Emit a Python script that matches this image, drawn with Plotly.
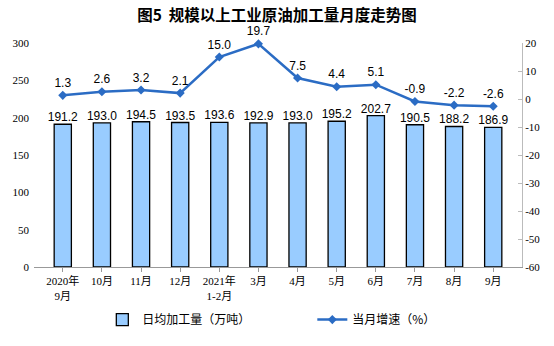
import plotly.graph_objects as go

categories = ["2020年<br>9月", "10月", "11月", "12月", "2021年<br>1-2月", "3月",
              "4月", "5月", "6月", "7月", "8月", "9月"]
daily_output = [191.2, 193.0, 194.5, 193.5, 193.6, 192.9, 193.0, 195.2, 202.7, 190.5, 188.2, 186.9]
growth = [1.3, 2.6, 3.2, 2.1, 15.0, 19.7, 7.5, 4.4, 5.1, -0.9, -2.2, -2.6]
right_ticks = [20, 10, 0, -10, -20, -30, -40, -50, -60]
right_labels = ["20", "10", "0", "-10", "-20", "-30", "-40", "-50", "-60"]

serif = "Liberation Serif, Noto Sans CJK SC, serif"
sans = "Liberation Sans, Arial, sans-serif"
cjk = "Noto Sans CJK SC, sans-serif"

fig = go.Figure()
fig.add_trace(go.Bar(
    x=categories, y=daily_output, name="日均加工量（万吨）",
    marker=dict(color="#99CCFF", line=dict(color="#000000", width=1.3)),
    yaxis="y",
))
fig.add_trace(go.Scatter(
    x=categories, y=daily_output, mode="text", showlegend=False,
    text=[f"{v:.1f}" for v in daily_output], textposition="top center",
    textfont=dict(family=sans, size=12, color="#000000"),
    cliponaxis=False, yaxis="y", hoverinfo="skip",
))
fig.add_trace(go.Scatter(
    x=categories, y=growth, name="当月增速（%）", mode="lines+markers+text",
    line=dict(color="#2B6CC4", width=2.5),
    marker=dict(symbol="diamond", size=7, color="#2B6CC4"),
    text=[f"{v:.1f}" for v in growth], textposition="top center",
    textfont=dict(family=sans, size=12, color="#000000"),
    cliponaxis=False, yaxis="y2",
))

fig.update_layout(
    width=554, height=346,
    margin=dict(l=34, r=32, t=43, b=77),
    paper_bgcolor="white", plot_bgcolor="white",
    title=dict(text="<b>图5  规模以上工业原油加工量月度走势图</b>", x=0.5, xanchor="center",
               y=0.955, yanchor="middle", font=dict(family=cjk, size=15.5, color="#000000")),
    bargap=0.56,
    showlegend=True,
    legend=dict(orientation="h", x=0.14, y=-0.17, xanchor="left", yanchor="top",
                font=dict(family=cjk, size=12, color="#000000"),
                entrywidth=165, entrywidthmode="pixels", traceorder="normal",
                bgcolor="rgba(0,0,0,0)"),
    xaxis=dict(showline=True, linecolor="#999999", linewidth=1,
               ticks="outside", ticklen=4, tickcolor="#999999",
               tickmode="array", tickvals=categories,
               tickfont=dict(family=serif, size=11, color="#000000"),
               showgrid=False),
    yaxis=dict(range=[0, 300], dtick=50, showgrid=False, showline=False,
               zeroline=False, tickfont=dict(family=serif, size=11, color="#000000"),
               ticks="", ticklabelstandoff=4),
    yaxis2=dict(range=[-60, 20], tickmode="array", tickvals=right_ticks, ticktext=right_labels,
                overlaying="y", side="right",
                showgrid=False, showline=True, linecolor="#BBBBBB", linewidth=1,
                ticks="inside", ticklen=4, tickcolor="#BBBBBB", zeroline=False,
                tickfont=dict(family=serif, size=11, color="#000000")),
)

fig.write_html("out.html")
